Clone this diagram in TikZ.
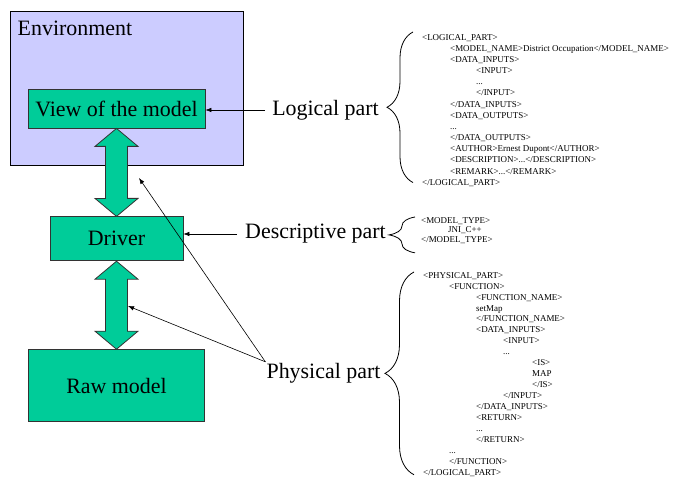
\documentclass[tikz,border=0pt]{standalone}
\usepackage{fontspec}
\setmainfont{Liberation Serif}
\usetikzlibrary{positioning,decorations.pathreplacing,arrows.meta}
\definecolor{modelgreen}{HTML}{00CC99}
\definecolor{envblue}{HTML}{CCCCFF}
\tikzset{
  box/.style={draw=black!80, line width=0.8bp, fill=modelgreen, inner sep=0,
    font=\fontsize{22}{26}\selectfont},
  part/.style={font=\fontsize{22}{26}\selectfont, inner sep=1bp},
  xml/.style={font=\fontsize{9}{#1}\selectfont, align=left, inner sep=0, anchor=north west},
  pointer/.style={-{Latex[length=6bp,width=4.5bp]}, line width=0.6bp},
  bigarrow/.style={draw=black!80, line width=0.8bp, fill=modelgreen},
  brace/.style={decorate, decoration={brace, amplitude=#1}, line width=0.8bp},
}

\begin{document}
\begin{tikzpicture}[x=1bp, y=-1bp]
  \useasboundingbox (0,0) rectangle (686,477);

  % environment around the view
  \node[draw=black, line width=1bp, fill=envblue, minimum width=232bp, minimum height=154bp,
    inner sep=0] (env) at (127,89) {};
  \node[part, anchor=base west, inner sep=0] (envname) at ([shift={(7,24)}]env.north west) {Environment};

  % the three layers of the model
  \node[box, minimum width=177bp, minimum height=39bp] (view) at (116.5,108.5) {View of the model};
  \node[box, below=88bp of view, minimum width=133bp, minimum height=44bp] (driver) {Driver};
  \node[box, below=88bp of driver, minimum width=176bp, minimum height=72bp] (raw) {Raw model};

  \foreach \from/\to in {view/driver, driver/raw}
    \draw[bigarrow] (\from.south) -- ++(21.5,18) -- ++(-10.5,0) -- ++(0,52) -- ++(10.5,0)
      -- (\to.north) -- ++(-21.5,-18) -- ++(10.5,0) -- ++(0,-52) -- ++(-10.5,0) -- cycle;

  % the parts of the description
  \node[part] (logical) at (325.5,110) {Logical part};
  \node[part] (descriptive) at (315.5,234) {Descriptive part};
  \node[part] (physical) at (323.5,373) {Physical part};

  \coordinate (upper) at (139,178);
  \coordinate (lower) at (128,306);
  \draw[pointer, shorten <=6bp] (logical.west) -- (logical.west -| view.east);
  \draw[pointer, shorten <=7bp] (descriptive.west) -- (descriptive.west -| driver.east);
  \draw[pointer] (physical.north west) -- (upper);
  \draw[pointer] (physical.north west) -- (lower);

  % xml listings
  \node[xml=11.2] (logxml) at (422,34) {%
    <LOGICAL\_PART>\\
    \hspace*{28bp}<MODEL\_NAME>District Occupation</MODEL\_NAME>\\
    \hspace*{28bp}<DATA\_INPUTS>\\
    \hspace*{54bp}<INPUT>\\
    \hspace*{54bp}...\\
    \hspace*{54bp}</INPUT>\\
    \hspace*{28bp}</DATA\_INPUTS>\\
    \hspace*{28bp}<DATA\_OUTPUTS>\\
    \hspace*{28bp}...\\
    \hspace*{28bp}</DATA\_OUTPUTS>\\
    \hspace*{28bp}<AUTHOR>Ernest Dupont</AUTHOR>\\
    \hspace*{28bp}<DESCRIPTION>...</DESCRIPTION>\\
    \hspace*{28bp}<REMARK>...</REMARK>\\
    </LOGICAL\_PART>};
  \node[xml=9.7] (descxml) at (421,217) {%
    <MODEL\_TYPE>\\
    \hspace*{27bp}JNI\_C++\\
    </MODEL\_TYPE>};
  \node[xml=11] (physxml) at (423,272) {%
    <PHYSICAL\_PART>\\
    \hspace*{26bp}<FUNCTION>\\
    \hspace*{53bp}<FUNCTION\_NAME>\\
    \hspace*{53bp}setMap\\
    \hspace*{53bp}</FUNCTION\_NAME>\\
    \hspace*{53bp}<DATA\_INPUTS>\\
    \hspace*{80bp}<INPUT>\\
    \hspace*{80bp}...\\
    \hspace*{109bp}<IS>\\
    \hspace*{109bp}MAP\\
    \hspace*{109bp}</IS>\\
    \hspace*{80bp}</INPUT>\\
    \hspace*{53bp}</DATA\_INPUTS>\\
    \hspace*{53bp}<RETURN>\\
    \hspace*{53bp}...\\
    \hspace*{53bp}</RETURN>\\
    \hspace*{26bp}...\\
    \hspace*{26bp}</FUNCTION>\\
    </LOGICAL\_PART>};

  % braces
  \draw[brace=26bp] ([xshift=-9bp,yshift=4bp]logxml.south west) -- ([xshift=-9bp,yshift=2bp]logxml.north west);
  \draw[brace=26bp] ([xshift=-6bp,yshift=-9bp]descxml.south west) -- ([xshift=-6bp]descxml.north west);
  \draw[brace=29bp] ([xshift=-9bp,yshift=2bp]physxml.south west) -- (physxml.north west -| 414,0);
\end{tikzpicture}
\end{document}
